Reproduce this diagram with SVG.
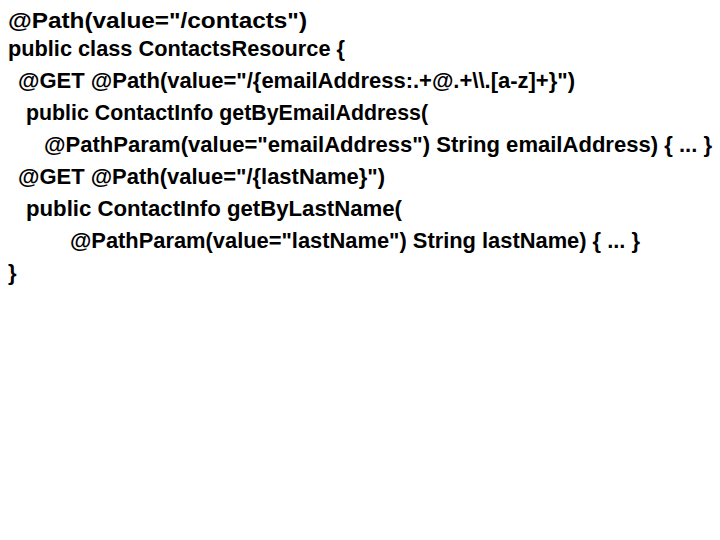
<svg xmlns="http://www.w3.org/2000/svg" width="720" height="540" viewBox="0 0 720 540">
<style>text{font-family:"Liberation Sans",Arial,sans-serif;font-weight:bold;font-size:22px;fill:#000}</style>
<rect width="720" height="540" fill="#fff"/>
<text x="8" y="28" textLength="299" lengthAdjust="spacingAndGlyphs">@Path(value="/contacts")</text>
<text x="8" y="56" textLength="337" lengthAdjust="spacingAndGlyphs">public class ContactsResource {</text>
<text x="18" y="88" textLength="557" lengthAdjust="spacingAndGlyphs">@GET @Path(value="/{emailAddress:.+@.+\\.[a-z]+}")</text>
<text x="26" y="120" textLength="402" lengthAdjust="spacingAndGlyphs">public ContactInfo getByEmailAddress(</text>
<text x="44" y="152" textLength="668" lengthAdjust="spacingAndGlyphs">@PathParam(value="emailAddress") String emailAddress) { ... }</text>
<text x="18" y="184" textLength="367" lengthAdjust="spacingAndGlyphs">@GET @Path(value="/{lastName}")</text>
<text x="26" y="216" textLength="376" lengthAdjust="spacingAndGlyphs">public ContactInfo getByLastName(</text>
<text x="70" y="248" textLength="570" lengthAdjust="spacingAndGlyphs">@PathParam(value="lastName") String lastName) { ... }</text>
<text x="8" y="280">}</text>
</svg>
